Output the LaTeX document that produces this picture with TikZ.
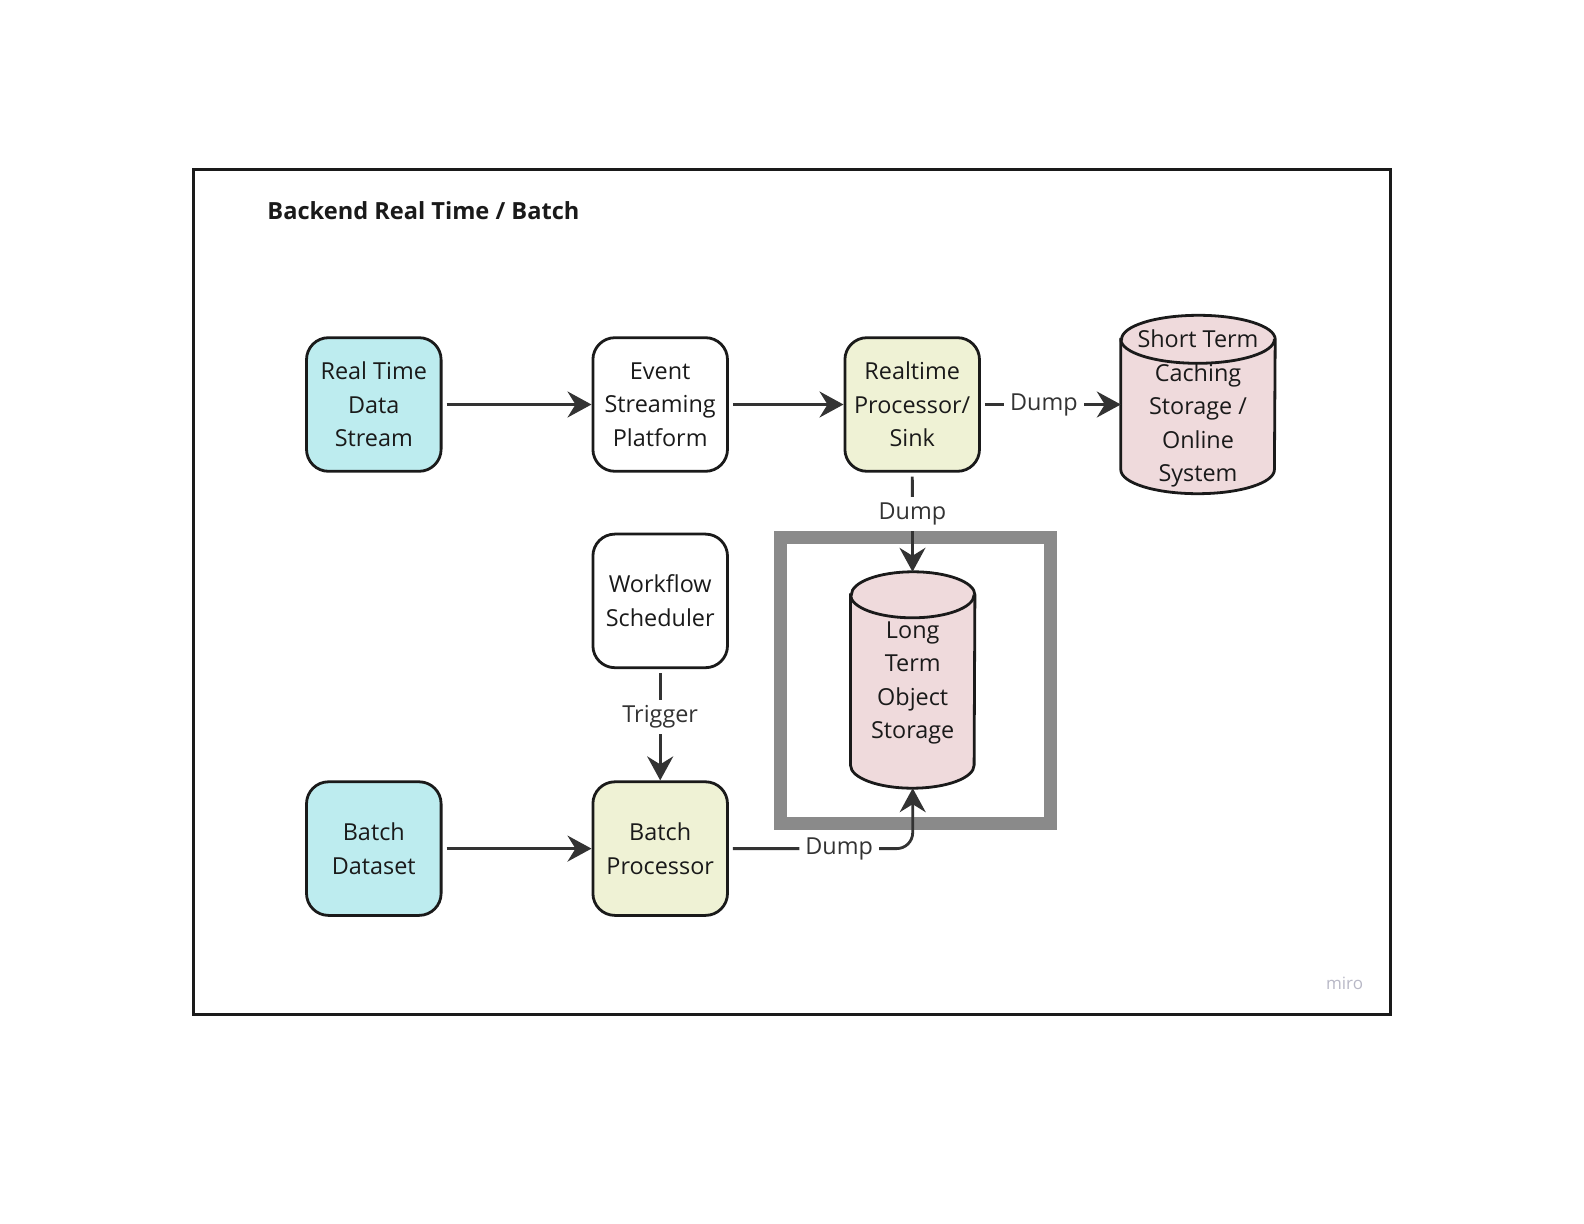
\documentclass[tikz,border=0pt]{standalone}
\usepackage{fontspec}
\setmainfont{Open Sans}
\usepackage{tikz}
\usetikzlibrary{shapes.geometric, arrows.meta}
\definecolor{rtcyan}{HTML}{BDECEF}
\definecolor{procyellow}{HTML}{EFF2D5}
\definecolor{storepink}{HTML}{EFDADC}
\definecolor{linegrey}{HTML}{333333}
\definecolor{framegrey}{HTML}{8A8A8A}
\definecolor{textblack}{HTML}{1A1A1A}
\definecolor{miroGrey}{HTML}{B8B8C6}
\tikzstyle{block} = [draw=textblack, line width=1.4pt, rounded corners=11pt, minimum width=67.3pt, minimum height=66.8pt, inner sep=0pt, align=center, text=textblack, font=\fontsize{11.7}{16.75}\selectfont]
\tikzstyle{store} = [inner sep=0pt, align=center, text=textblack, font=\fontsize{11.7}{16.75}\selectfont]
\tikzstyle{storeline} = [line width=1.4pt, draw=textblack, fill=storepink]
\tikzstyle{arrow} = [line width=1.4pt, draw=linegrey, -{Stealth[length=12pt, width=13pt, inset=4pt]}, shorten <=2pt]
\tikzstyle{lbl} = [fill=white, text=linegrey, inner sep=3pt, font=\fontsize{11.7}{14}\selectfont]
% cylinder outline round a node: #1 node, #2 x radius, #3 y radius
\newcommand{\storeshape}[3]{%
	\draw[storeline] ([yshift=-#3]#1.north west) -- ([yshift=#3]#1.south west)
		arc[start angle=180, end angle=360, x radius=#2, y radius=#3]
		-- ([yshift=-#3]#1.north east)
		arc[start angle=0, end angle=180, x radius=#2, y radius=#3] -- cycle;
	\draw[storeline, fill=none] ([yshift=-#3]#1.north west)
		arc[start angle=180, end angle=360, x radius=#2, y radius=#3];
}

\begin{document}
\begin{tikzpicture}[x=0.5pt, y=-0.5pt]
	\useasboundingbox (0,0) rectangle (1584,1224);
	\draw[line width=1.5pt, draw=textblack] (193.8,169.6) rectangle (1390.2,1014.4);
	\node[anchor=west, inner sep=0pt, text=textblack, font=\bfseries\fontsize{11.8}{14}\selectfont] (title) at (267,211) {Backend Real Time / Batch};
	\draw[line width=6.5pt, draw=framegrey] (780.5,538) rectangle (1050,823.5);

	\node[block, fill=rtcyan] (rtds) at (373.8,404.5) {Real Time\\Data\\Stream};
	\node[block, fill=white] (esp) at (660.2,404.5) {Event\\Streaming\\Platform};
	\node[block, fill=procyellow] (rps) at (912.2,404.5) {Realtime\\Processor/\\Sink};
	\node[block, fill=white] (wfs) at (660.2,600.9) {Workflow\\Scheduler};
	\node[block, fill=rtcyan] (bds) at (373.8,848.6) {Batch\\Dataset};
	\node[block, fill=procyellow] (bpr) at (660.2,848.6) {Batch\\Processor};

	\node[store, minimum width=76.8pt, minimum height=88.8pt] (sts) at (1198,404.5) {};
	\storeshape{sts}{38.4pt}{12pt}
	\node[store, yshift=-2.2pt] (ststext) at (sts.center) {Short Term\\Caching\\Storage /\\Online\\System};
	\node[store, minimum width=61.8pt, minimum height=107.8pt] (lts) at (912.7,680) {};
	\storeshape{lts}{30.9pt}{11.5pt}
	\node[store, yshift=-1.6pt] (ltstext) at (lts.center) {Long\\Term\\Object\\Storage};

	\draw[arrow] (rtds) -- (esp);
	\draw[arrow] (esp) -- (rps);
	\draw[arrow] (rps) -- node[lbl, pos=0.45] {Dump} (sts);
	\draw[arrow] (rps) -- node[lbl, pos=0.42] {Dump} (lts);
	\draw[arrow] (wfs) -- node[lbl, pos=0.43] {Trigger} (bpr);
	\draw[arrow] (bds) -- (bpr);
	\draw[arrow, rounded corners=8pt] (bpr) -| node[lbl, pos=0.3] {Dump} (lts);

	\node[text=miroGrey, font=\fontsize{8.5}{10}\selectfont] (miro) at (1344.6,983) {miro};
\end{tikzpicture}
\end{document}
